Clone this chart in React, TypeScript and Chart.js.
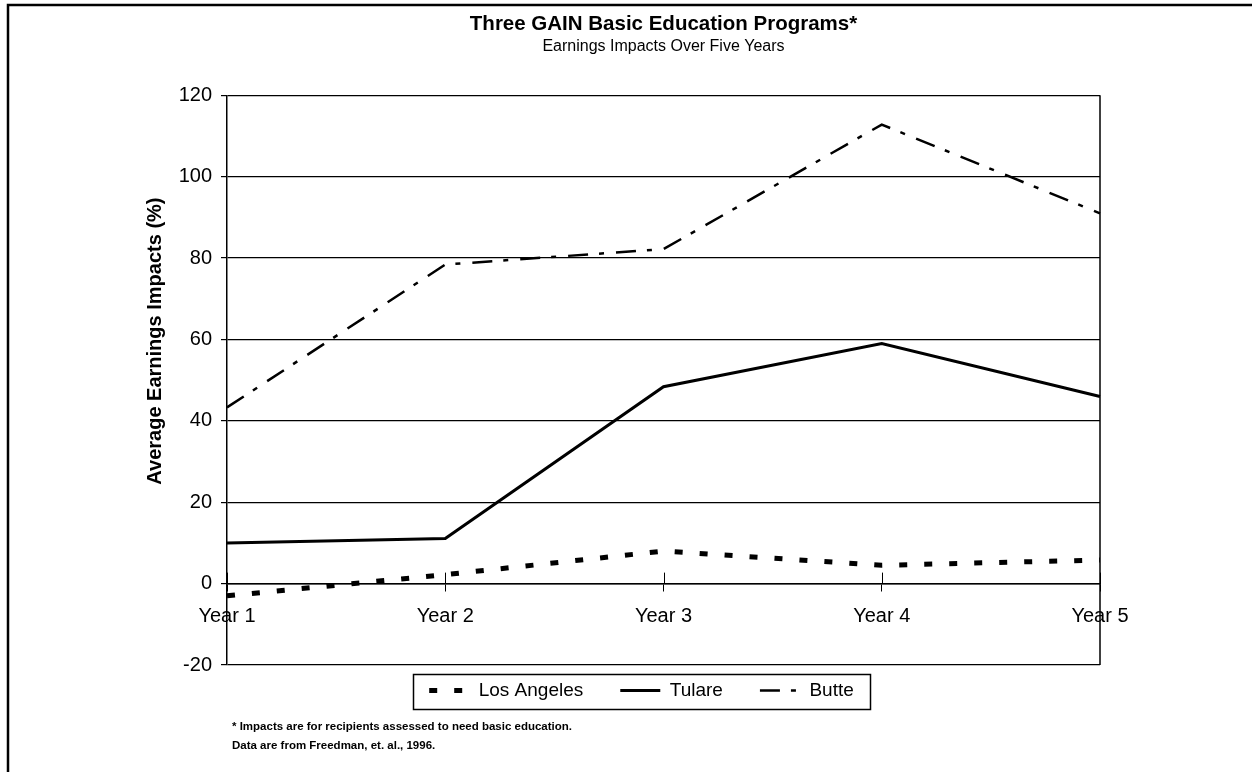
import React, { useEffect, useRef } from 'react';
import { Chart, registerables } from 'chart.js';

Chart.register(...registerables);

const categories = ['Year 1', 'Year 2', 'Year 3', 'Year 4', 'Year 5'];
const losAngeles = [-3, 2.2, 8, 4.5, 5.8];
const tulare = [10, 11.1, 48.4, 59, 46];
const butte = [43.3, 78.4, 82.2, 112.8, 91];
const yMin = -20;
const yMax = 120;
const yStep = 20;

const titleText = 'Three GAIN Basic Education Programs*';
const subtitleText = 'Earnings Impacts Over Five Years';
const yAxisTitle = 'Average Earnings Impacts (%)';
const footnotes = [
  '* Impacts are for recipients assessed to need basic education.',
  'Data are from Freedman, et. al., 1996.',
];

const FONT = '"Liberation Sans", Arial, Helvetica, sans-serif';
const LEGEND_SHIFT = 21;

const decorPlugin = {
  id: 'decor',
  afterLayout(chart: any) {
    const lg = chart.legend;
    if (lg) {
      lg.top -= LEGEND_SHIFT;
      lg.bottom -= LEGEND_SHIFT;
    }
  },
  beforeDraw(chart: any) {
    const ctx = chart.ctx;
    ctx.save();
    ctx.fillStyle = '#ffffff';
    ctx.fillRect(0, 0, chart.width, chart.height);
    ctx.restore();
  },
  afterDraw(chart: any) {
    const ctx = chart.ctx;
    const { right, top, bottom } = chart.chartArea;
    ctx.save();
    ctx.strokeStyle = '#000';
    // plot area right border
    ctx.lineWidth = 1.5;
    ctx.beginPath();
    ctx.moveTo(right, top);
    ctx.lineTo(right, bottom);
    ctx.stroke();
    // upper half of cross tick marks on the category axis
    const xs = chart.scales.x;
    const ys = chart.scales.y;
    const y0 = ys.getPixelForValue(0);
    ctx.lineWidth = 1;
    categories.forEach((_, i) => {
      const px = Math.round(xs.getPixelForTick(i)) + 0.5;
      ctx.beginPath();
      ctx.moveTo(px, y0 - 11);
      ctx.lineTo(px, y0);
      ctx.stroke();
    });
    // y axis title (placed as in the original, above the axis centre)
    ctx.save();
    ctx.fillStyle = '#000';
    ctx.font = `bold 20px ${FONT}`;
    ctx.textAlign = 'center';
    ctx.textBaseline = 'middle';
    ctx.translate(155, ys.getPixelForValue(59.6));
    ctx.rotate(-Math.PI / 2);
    ctx.fillText(yAxisTitle, 0, 0);
    ctx.restore();
    // legend border
    const lg = chart.legend;
    if (lg && lg.legendHitBoxes && lg.legendHitBoxes.length) {
      const hb = lg.legendHitBoxes;
      const first = hb[0];
      const last = hb[hb.length - 1];
      const l = first.left - 16;
      const r = last.left + last.width + 16;
      const cy = first.top + first.height / 2;
      ctx.lineWidth = 1.5;
      ctx.strokeRect(Math.round(l) + 0.5, Math.round(cy - 17) + 0.5, Math.round(r - l), 35);
    }
    // footnotes
    ctx.fillStyle = '#000';
    ctx.font = `bold 11.5px ${FONT}`;
    ctx.textAlign = 'left';
    ctx.textBaseline = 'middle';
    ctx.fillText(footnotes[0], 232, 727);
    ctx.fillText(footnotes[1], 232, 746);
    // outer frame (top and left edges)
    ctx.lineWidth = 2.5;
    ctx.beginPath();
    ctx.moveTo(8, chart.height);
    ctx.lineTo(8, 5);
    ctx.lineTo(chart.width, 5);
    ctx.stroke();
    ctx.restore();
  },
};

export default function App() {
  const canvasRef = useRef<HTMLCanvasElement | null>(null);

  useEffect(() => {
    const canvas = canvasRef.current;
    if (!canvas) return;
    const chart = new Chart(canvas, {
      type: 'line',
      data: {
        labels: categories,
        datasets: [
          {
            label: 'Los Angeles',
            data: losAngeles,
            borderColor: '#000',
            backgroundColor: '#000',
            borderWidth: 5,
            borderDash: [8, 17],
            borderCapStyle: 'butt',
            pointRadius: 0,
            tension: 0,
            fill: false,
          },
          {
            label: 'Tulare',
            data: tulare,
            borderColor: '#000',
            backgroundColor: '#000',
            borderWidth: 3,
            pointRadius: 0,
            tension: 0,
            fill: false,
          },
          {
            label: 'Butte',
            data: butte,
            borderColor: '#000',
            backgroundColor: '#000',
            borderWidth: 2.5,
            borderDash: [20, 11, 5, 12],
            pointRadius: 0,
            tension: 0,
            fill: false,
          },
        ],
      },
      options: {
        responsive: false,
        animation: false,
        devicePixelRatio: 1,
        layout: { padding: { left: 143, right: 112, top: 0, bottom: 41 } },
        plugins: {
          title: {
            display: true,
            text: titleText,
            fullSize: false,
            color: '#000',
            font: { family: FONT, size: 20.5, weight: 'bold' },
            padding: { top: 12, bottom: 0 },
          },
          subtitle: {
            display: true,
            text: subtitleText,
            fullSize: false,
            color: '#000',
            font: { family: FONT, size: 16, weight: 'normal' },
            padding: { top: 0, bottom: 39.5 },
          },
          legend: {
            display: true,
            position: 'bottom',
            labels: {
              usePointStyle: true,
              pointStyle: 'line',
              pointStyleWidth: 40,
              color: '#000',
              font: { family: FONT, size: 19 },
              padding: 37,
              generateLabels: (ch: any) =>
                ch.data.datasets.map((ds: any, i: number) => ({
                  text: ds.label,
                  fillStyle: '#000',
                  strokeStyle: '#000',
                  fontColor: '#000',
                  lineWidth: ds.borderWidth,
                  lineDash: ds.borderDash || [],
                  lineDashOffset: 0,
                  lineCap: 'butt',
                  lineJoin: 'miter',
                  pointStyle: 'line',
                  hidden: false,
                  datasetIndex: i,
                })),
            },
          },
          tooltip: { enabled: false },
        },
        scales: {
          x: {
            type: 'category',
            position: { y: 0 },
            offset: false,
            grid: {
              display: true,
              drawOnChartArea: false,
              drawTicks: true,
              tickLength: 7,
              color: '#000',
              lineWidth: 1,
            },
            border: { display: true, color: '#000', width: 1.5 },
            ticks: {
              color: '#000',
              font: { family: FONT, size: 20 },
              padding: 14,
              maxRotation: 0,
              autoSkip: false,
            },
          },
          y: {
            type: 'linear',
            position: 'left',
            min: yMin,
            max: yMax,
            afterFit: (s: any) => {
              s.width = 84;
            },
            ticks: {
              stepSize: yStep,
              color: '#000',
              font: { family: FONT, size: 20 },
              padding: 9,
            },
            grid: {
              color: '#000',
              lineWidth: 1.2,
              drawTicks: true,
              tickLength: 6,
            },
            border: { display: true, color: '#000', width: 1.5 },
            title: { display: false },
          },
          yr: {
            type: 'linear',
            position: 'right',
            display: true,
            afterFit: (s: any) => {
              s.width = 40;
            },
            ticks: { display: false },
            grid: { display: false, drawTicks: false },
            border: { display: false },
          },
        },
      },
      plugins: [decorPlugin],
    } as any);
    return () => chart.destroy();
  }, []);

  return (
    <div style={{ position: 'absolute', left: 0, top: 0, width: 1252, height: 772, background: '#fff' }}>
      <canvas ref={canvasRef} width={1252} height={772} style={{ display: 'block' }} />
    </div>
  );
}
